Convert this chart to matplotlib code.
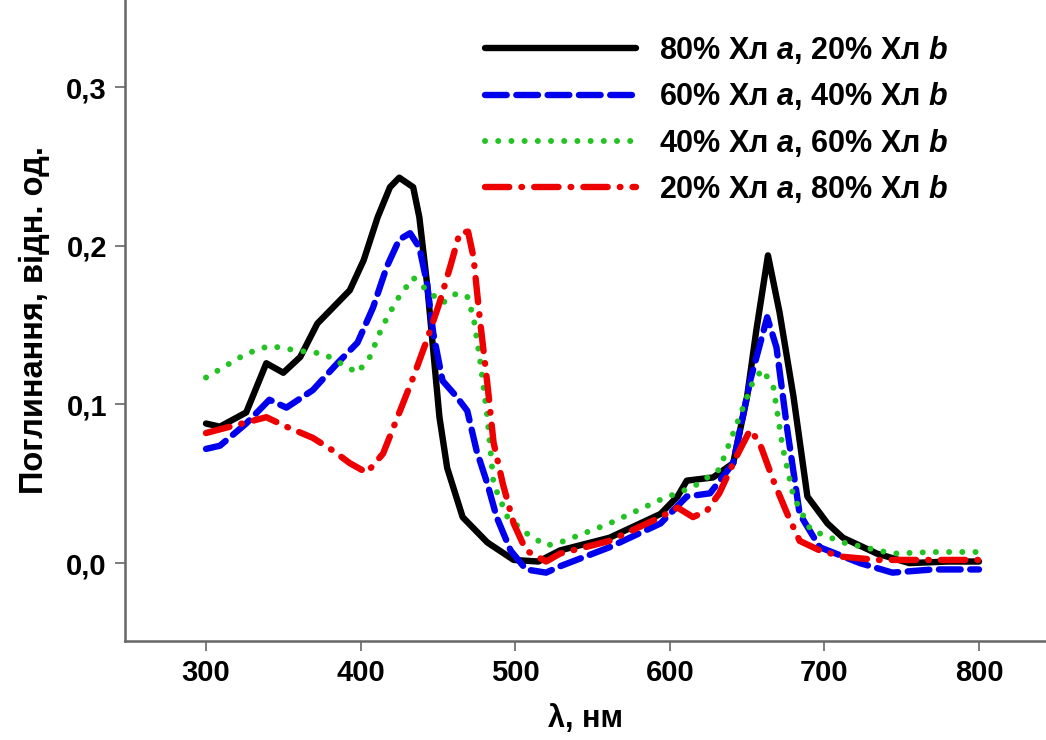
import matplotlib
matplotlib.use('Agg')
from matplotlib import pyplot as plt

plt.rcParams['font.family'] = ['Liberation Sans', 'DejaVu Sans']
plt.rcParams['font.weight'] = 'bold'
plt.rcParams['mathtext.fontset'] = 'custom'
plt.rcParams['mathtext.it'] = 'Liberation Sans:italic:bold'
plt.rcParams['mathtext.rm'] = 'Liberation Sans:bold'

# спектри поглинання, значення
wl_a80 = [300, 309, 326, 339, 350, 361, 372, 382, 393, 402, 411, 419, 425, 434, 438, 443, 447,
          451, 456, 466, 482, 499, 515, 529, 561, 594, 605, 611, 628, 641, 650, 656, 663.5, 671,
          680, 689, 702, 712, 734, 755, 780, 800]
abs_a80 = [0.088, 0.086, 0.095, 0.126, 0.120, 0.130, 0.151, 0.161, 0.172, 0.191, 0.218, 0.237,
           0.243, 0.237, 0.218, 0.176, 0.134, 0.092, 0.060, 0.029, 0.013, 0.002, 0.001, 0.008,
           0.016, 0.031, 0.042, 0.052, 0.054, 0.063, 0.105, 0.147, 0.194, 0.158, 0.105, 0.042,
           0.025, 0.016, 0.006, 0.000, 0.001, 0.001]

wl_a60 = [300, 309, 326, 341, 352, 369, 385, 398, 408, 417, 425, 432, 438, 443, 447, 453, 462,
          469, 475, 482, 488, 497, 507, 520, 529, 561, 594, 611, 626, 641, 652, 663, 669, 676,
          684, 697, 723, 744, 770, 800]
abs_a60 = [0.072, 0.074, 0.088, 0.103, 0.098, 0.109, 0.126, 0.139, 0.161, 0.187, 0.204, 0.208,
           0.199, 0.176, 0.145, 0.115, 0.105, 0.096, 0.071, 0.050, 0.029, 0.008, -0.004, -0.006,
           -0.002, 0.010, 0.025, 0.042, 0.044, 0.063, 0.115, 0.155, 0.136, 0.084, 0.031, 0.010,
           0.000, -0.006, -0.004, -0.004]

wl_a40 = [300, 326, 341, 359, 376, 387, 398, 406, 414, 423.5, 434, 443, 453, 462, 469, 473, 477,
          482, 486, 495, 507, 520, 529, 561, 594, 615, 632, 645, 654, 660, 667, 673, 680, 691,
          712, 744, 770, 800]
abs_a40 = [0.117, 0.132, 0.137, 0.134, 0.132, 0.126, 0.120, 0.130, 0.149, 0.166, 0.180, 0.172,
           0.164, 0.170, 0.168, 0.155, 0.130, 0.092, 0.050, 0.029, 0.019, 0.011, 0.013, 0.025,
           0.040, 0.048, 0.059, 0.092, 0.115, 0.122, 0.111, 0.073, 0.042, 0.021, 0.013, 0.006,
           0.007, 0.007]

wl_a20 = [300, 315.5, 339, 352, 369, 382, 393, 404, 414.5, 425.5, 434, 443, 451, 458, 464, 469.5,
          473, 477, 482, 486, 492, 499, 507, 520, 529, 561, 594, 605, 615, 624, 632, 643, 652,
          658, 667, 676, 684, 697, 712, 734, 800]
abs_a20 = [0.082, 0.086, 0.092, 0.086, 0.079, 0.071, 0.063, 0.057, 0.069, 0.096, 0.117, 0.141,
           0.164, 0.187, 0.208, 0.209, 0.193, 0.155, 0.113, 0.076, 0.050, 0.025, 0.008, 0.001,
           0.006, 0.014, 0.029, 0.035, 0.029, 0.033, 0.044, 0.067, 0.084, 0.076, 0.052, 0.031,
           0.014, 0.008, 0.004, 0.002, 0.002]

labels = ['80% Хл $a$, 20% Хл $b$', '60% Хл $a$, 40% Хл $b$',
          '40% Хл $a$, 60% Хл $b$', '20% Хл $a$, 80% Хл $b$']
y_ticks = [0.0, 0.1, 0.2, 0.3]
y_tick_labels = ['0,0', '0,1', '0,2', '0,3']
x_ticks = [300, 400, 500, 600, 700, 800]

fig = plt.figure(figsize=(10.46, 7.40), dpi=100)
ax = fig.add_axes([0.1195, 0.134, 0.88, 0.866])

ax.plot(wl_a80, abs_a80, color='black', lw=4.6, solid_joinstyle='round',
        solid_capstyle='round', label=labels[0])
ax.plot(wl_a60, abs_a60, color='#0000ee', lw=4.6, dashes=(3.4, 1.5), dash_capstyle='round',
        label=labels[1])
ax.plot(wl_a40, abs_a40, color='#22c322', lw=4.3, dashes=(0.01, 2.2), dash_capstyle='round',
        label=labels[2])
ax.plot(wl_a20, abs_a20, color='#ee0000', lw=4.6, dashes=(3.8, 1.9, 0.1, 1.9),
        dash_capstyle='round', label=labels[3])

ax.set_xlim(247.6, 843)
ax.set_ylim(-0.049, 0.355)
ax.set_xticks(x_ticks)
ax.set_yticks(y_ticks)
ax.set_yticklabels(y_tick_labels)
ax.tick_params(axis='both', labelsize=21, direction='out', length=7, width=1.2,
               color='#666666', pad=6)

for side in ['top', 'right']:
    ax.spines[side].set_visible(False)
for side in ['left', 'bottom']:
    ax.spines[side].set_color('#666666')
    ax.spines[side].set_linewidth(1.8)

ax.set_xlabel('λ, нм', fontsize=22, fontweight='bold', labelpad=12)
ax.set_ylabel('Поглинання, відн. од.', fontsize=23.5, fontweight='bold', labelpad=12)

ax.legend(loc='upper left', bbox_to_anchor=(485 / 1046, 1 - 34 / 740),
          bbox_transform=fig.transFigure, frameon=False, fontsize=22,
          borderpad=0, borderaxespad=0, handlelength=4.95, handletextpad=0.75,
          labelspacing=0.47)

fig.savefig('out.png', dpi=100)
